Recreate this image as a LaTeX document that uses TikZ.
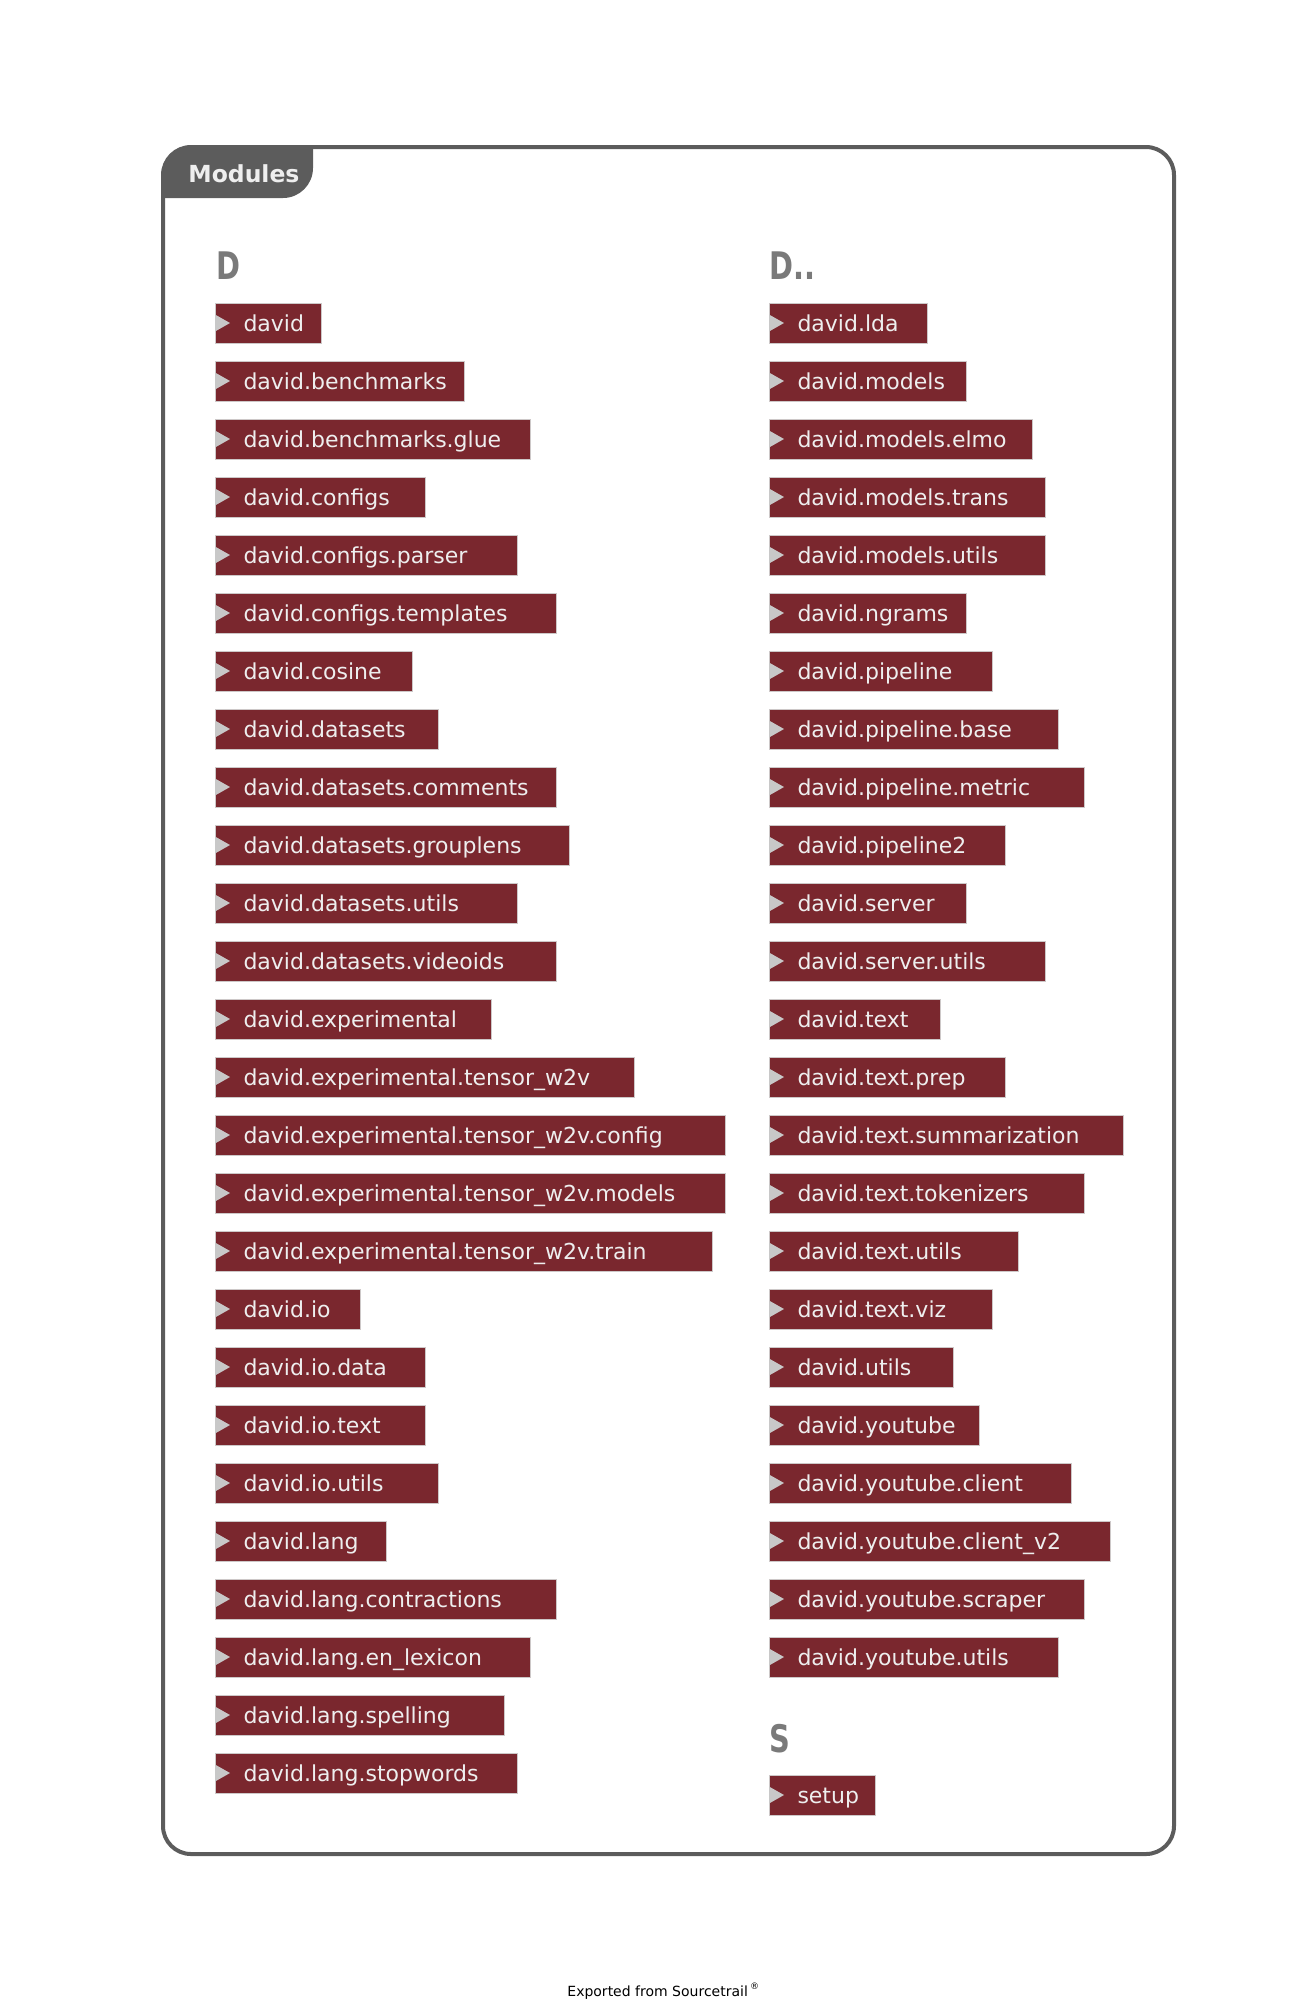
\documentclass[tikz,border=0pt]{standalone}
\usepackage{fontspec}
\setmainfont{DejaVu Sans}
\newfontfamily\headfont[FakeStretch=0.76]{DejaVu Sans}
\usepackage{tikz}
\usetikzlibrary{positioning}
\usepackage{xcolor}
\definecolor{modred}{RGB}{122,39,46}
\definecolor{modedge}{RGB}{205,200,200}
\definecolor{modtri}{RGB}{200,200,200}
\definecolor{framegray}{RGB}{92,92,92}
\definecolor{headgray}{RGB}{122,122,122}
\definecolor{tabtext}{RGB}{238,238,238}

\begin{document}
\begin{tikzpicture}[x=0.5pt, y=-0.5pt,
  modbox/.style={anchor=west, fill=modred, draw=modedge, line width=0.5pt,
    text=tabtext, font=\fontsize{11}{12}\selectfont, inner sep=0pt,
    text height=14pt, text depth=6pt, align=left,
    text width={20.5pt+6.515pt*#1}, execute at begin node=\hspace*{14pt}},
  modarrow/.style={fill=modtri},
  letter/.style={anchor=base west, inner sep=0pt, text=headgray,
    font=\headfont\bfseries\fontsize{19}{20}\selectfont}]
  \useasboundingbox (0,0) rectangle (1314,2010);
  \begin{scope}
    \clip[rounded corners=14pt] (163,147) rectangle (1174,1854);
    \fill[framegray, rounded corners=15pt] (120,100) rectangle (313,198);
  \end{scope}
  \draw[framegray, line width=2pt, rounded corners=14pt] (163,147) rectangle (1174,1854);
  \node[anchor=base west, inner sep=0pt, text=tabtext, font=\bfseries\fontsize{11.75}{13}\selectfont] (title) at (188,182) {Modules};

  \node[letter] (hd) at (216,279) {D};
  \node[letter] (hdd) at (769,279) {D..};
  \node[letter] (hs) at (769,1752) {S};

  \foreach \m/\n [count=\i from 0] in {david/5, david.benchmarks/16, david.benchmarks.glue/21,
      david.configs/13, david.configs.parser/20, david.configs.templates/23, david.cosine/12,
      david.datasets/14, david.datasets.comments/23, david.datasets.grouplens/24,
      david.datasets.utils/20, david.datasets.videoids/23, david.experimental/18,
      david.experimental.tensor\_w2v/29, david.experimental.tensor\_w2v.config/36,
      david.experimental.tensor\_w2v.models/36, david.experimental.tensor\_w2v.train/35,
      david.io/8, david.io.data/13, david.io.text/13, david.io.utils/14, david.lang/10,
      david.lang.contractions/23, david.lang.en\_lexicon/21, david.lang.spelling/19,
      david.lang.stopwords/20} {
    \node[modbox=\n] (l\i) at (215,{323+58*\i}) {\m};
    \fill[modarrow] (l\i.west) ++(0,4.25pt) -- ++(7.5pt,-4.25pt) -- ++(-7.5pt,-4.25pt) -- cycle;
  }
  \foreach \m/\n [count=\i from 0] in {david.lda/9, david.models/12, david.models.elmo/17,
      david.models.trans/18, david.models.utils/18, david.ngrams/12, david.pipeline/14,
      david.pipeline.base/19, david.pipeline.metric/21, david.pipeline2/15, david.server/12,
      david.server.utils/18, david.text/10, david.text.prep/15, david.text.summarization/24,
      david.text.tokenizers/21, david.text.utils/16, david.text.viz/14, david.utils/11,
      david.youtube/13, david.youtube.client/20, david.youtube.client\_v2/23,
      david.youtube.scraper/21, david.youtube.utils/19} {
    \node[modbox=\n] (r\i) at (769,{323+58*\i}) {\m};
    \fill[modarrow] (r\i.west) ++(0,4.25pt) -- ++(7.5pt,-4.25pt) -- ++(-7.5pt,-4.25pt) -- cycle;
  }
  \node[modbox=5] (setup) at (769,1795) {setup};
  \fill[modarrow] (setup.west) ++(0,4.25pt) -- ++(7.5pt,-4.25pt) -- ++(-7.5pt,-4.25pt) -- cycle;

  \node[anchor=base west, inner sep=0pt, font=\fontsize{7}{8}\selectfont] (foot) at (567,1996)
    {Exported from Sourcetrail\,\raisebox{3.5pt}{\fontsize{4.5}{5}\selectfont ®}};
\end{tikzpicture}
\end{document}
